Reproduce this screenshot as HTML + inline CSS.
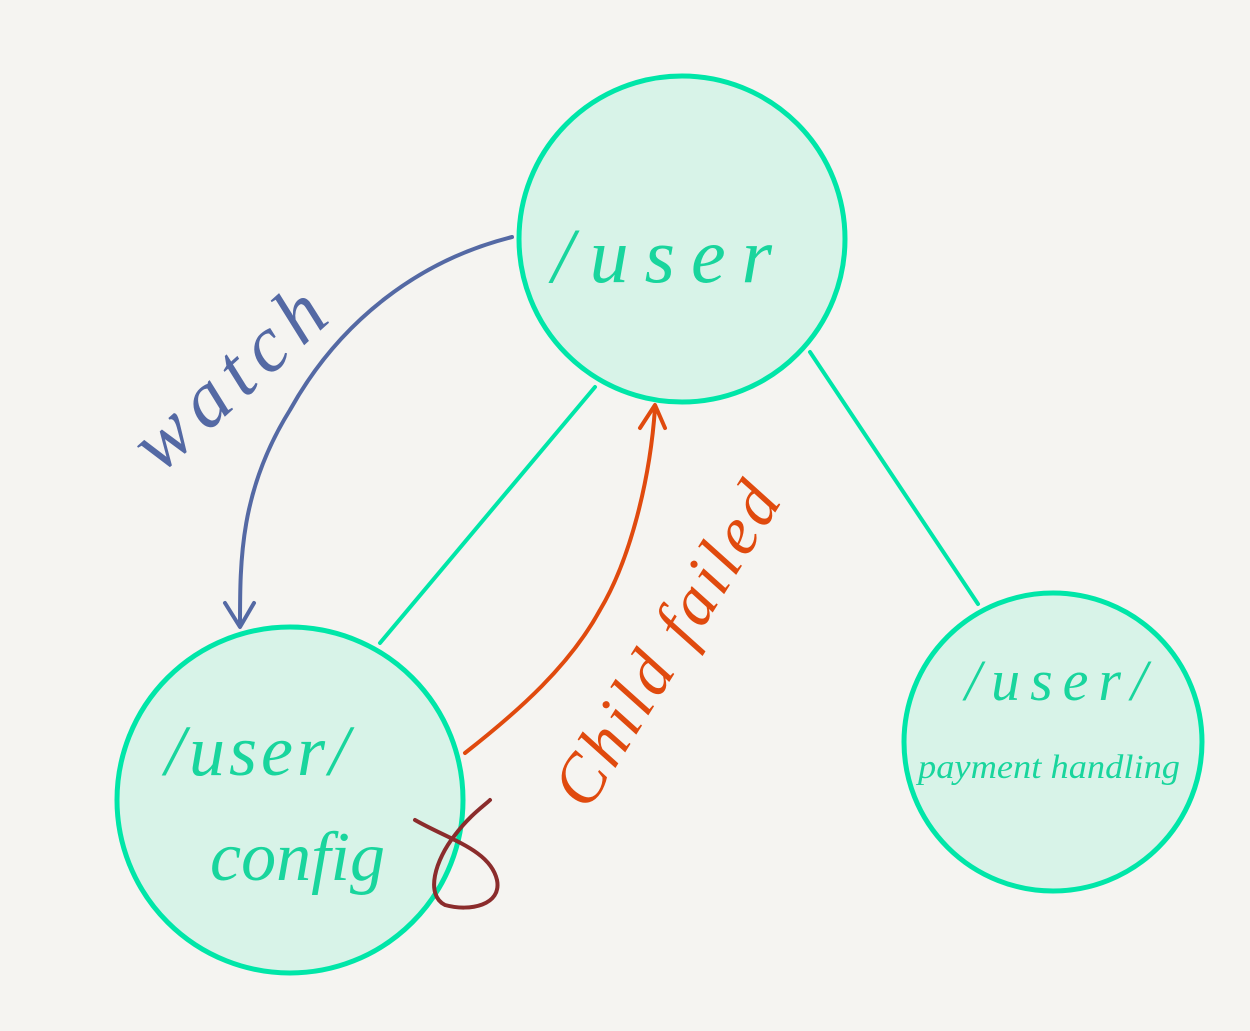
<!DOCTYPE html>
<html><head><meta charset="utf-8"><style>
html,body{margin:0;padding:0;background:#f5f4f1;}
svg{display:block}
text{font-family:"Liberation Serif",serif;font-style:italic}
</style></head><body>
<svg width="1250" height="1031" viewBox="0 0 1250 1031" xmlns="http://www.w3.org/2000/svg">
<rect width="1250" height="1031" fill="#f5f4f1"/>
<g fill="#d8f3e8" stroke="#00e6a8" stroke-width="5">
<circle cx="682" cy="239" r="163"/>
<circle cx="290" cy="800" r="173"/>
<circle cx="1053" cy="742" r="149"/>
</g>
<g stroke="#00e6a8" stroke-width="4" fill="none" stroke-linecap="round">
<line x1="595" y1="387" x2="380" y2="643"/>
<line x1="810" y1="352" x2="978" y2="604"/>
</g>
<path d="M512 237 C420 260 340 320 290 410 C240 490 240 560 240 625" stroke="#5469a4" stroke-width="4" fill="none" stroke-linecap="round"/>
<path d="M225 603 L240 627 L254 603" stroke="#5469a4" stroke-width="4" fill="none" stroke-linecap="round" stroke-linejoin="round"/>
<path d="M465 753 C520 710 570 665 600 610 C630 560 650 480 655 408" stroke="#e04a0e" stroke-width="4" fill="none" stroke-linecap="round"/>
<path d="M640 428 L655 405 L665 428" stroke="#e04a0e" stroke-width="4" fill="none" stroke-linecap="round" stroke-linejoin="round"/>
<path d="M415 820 C450 840 490 850 497 880 C502 905 470 912 445 905 C425 895 435 860 455 835 C470 815 485 805 490 800" stroke="#8b2c2c" stroke-width="4" fill="none" stroke-linecap="round"/>
<g fill="#19d59d">
<text x="552" y="282" font-size="78" letter-spacing="16">/user</text>
<text x="165" y="775" font-size="72" letter-spacing="4">/user/</text>
<text x="210" y="880" font-size="70">config</text>
<text x="965" y="700" font-size="58" letter-spacing="10">/user/</text>
<text x="918" y="778" font-size="34" textLength="262" lengthAdjust="spacingAndGlyphs">payment handling</text>
</g>
<text x="0" y="0" font-size="80" fill="#5469a4" letter-spacing="10" transform="translate(160,475) rotate(-42)">watch</text>
<text x="0" y="0" font-size="68" fill="#e04a0e" letter-spacing="4" transform="translate(588,812) rotate(-58)">Child failed</text>
</svg>
</body></html>
